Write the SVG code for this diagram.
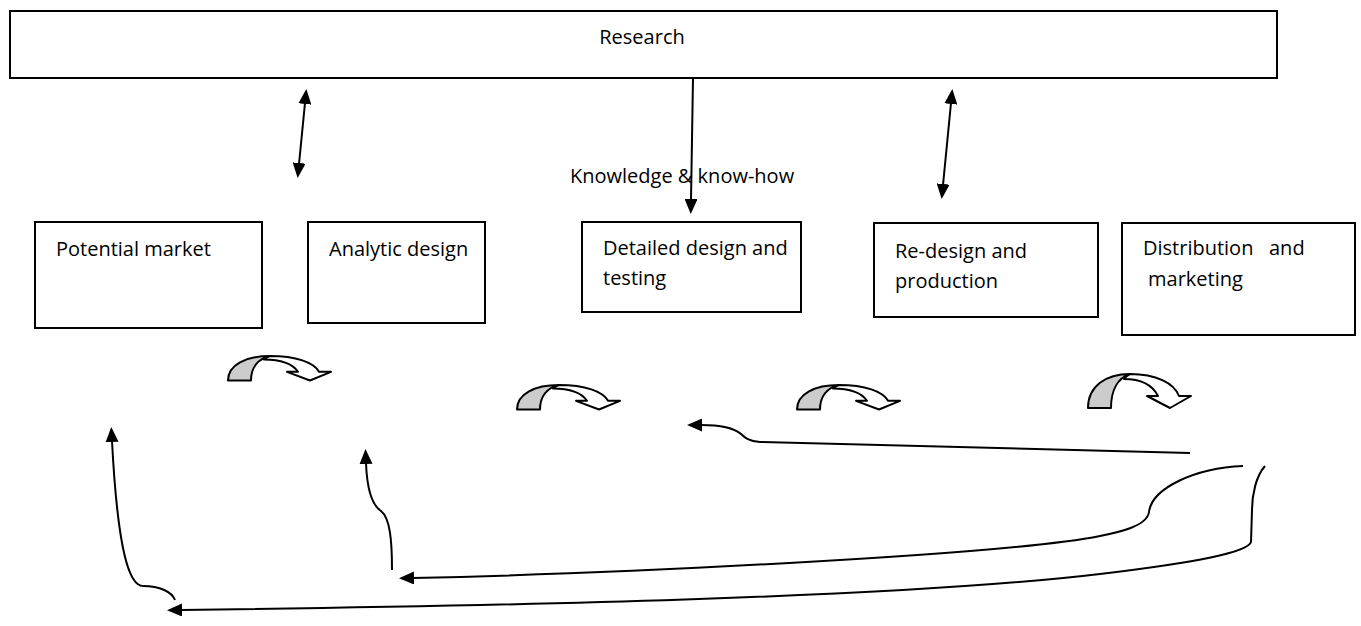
<svg xmlns="http://www.w3.org/2000/svg" width="1361" height="626" viewBox="0 0 1361 626">
<style>
.box{fill:#fff;stroke:#000;stroke-width:2}
.t{font-family:"Open Sans","Noto Sans",sans-serif;font-size:20px;fill:#000;white-space:pre}
.c{fill:none;stroke:#000;stroke-width:2}
.g{fill:#cccccc;stroke:#000;stroke-width:2;stroke-linejoin:round}
.w{fill:#fff;stroke:#000;stroke-width:2;stroke-linejoin:round}
</style>
<defs>
<marker id="ah" viewBox="0 0 15 13" refX="1" refY="6.5" markerWidth="15" markerHeight="13" markerUnits="userSpaceOnUse" orient="auto-start-reverse">
<path d="M0,0 L15,6.5 L0,13 z" fill="#000"/>
</marker>
<g id="uturn">
<path class="g" vector-effect="non-scaling-stroke" d="M0,34 C0,12 18,0 42,0 C30,4 23,16 23,34 Z"/>
<path class="w" vector-effect="non-scaling-stroke" d="M42,0 C68,0 86,9 91,22 L103,22 L82,34 L59,22 L70,22 C65,12 55,5 36,5 C38,2 40,1 42,0 Z"/>
</g>
</defs>
<g id="research">
<rect class="box" x="10" y="11" width="1267" height="67"/>
<text class="t" x="642" y="44" text-anchor="middle">Research</text>
</g>
<g id="potential-market">
<rect class="box" x="35" y="222" width="227" height="106"/>
<text class="t" x="56" y="256">Potential market</text>
</g>
<g id="analytic-design">
<rect class="box" x="308" y="222" width="177" height="101"/>
<text class="t" x="329" y="256">Analytic design</text>
</g>
<g id="detailed-design">
<rect class="box" x="582" y="222" width="219" height="90"/>
<text class="t" x="603" y="255">Detailed design and</text>
<text class="t" x="603" y="285">testing</text>
</g>
<g id="redesign">
<rect class="box" x="874" y="223" width="224" height="94"/>
<text class="t" x="895" y="258">Re-design and</text>
<text class="t" x="895" y="288">production</text>
</g>
<g id="distribution">
<rect class="box" x="1122" y="223" width="233" height="112"/>
<text class="t" x="1143" y="255">Distribution   and</text>
<text class="t" x="1148" y="286">marketing</text>
</g>
<g id="knowledge-label">
<text class="t" x="570" y="183">Knowledge &amp; know-how</text>
</g>
<g id="connectors">
<line class="c" x1="305" y1="103" x2="299" y2="164" marker-start="url(#ah)" marker-end="url(#ah)"/>
<line class="c" x1="951" y1="103" x2="943" y2="185" marker-start="url(#ah)" marker-end="url(#ah)"/>
<line class="c" x1="693" y1="78" x2="691" y2="200" marker-end="url(#ah)"/>
<path class="c" d="M1190,453 L760,442 C749,441 745,438 741,434 C734,428 720,425 701,425" marker-end="url(#ah)"/>
<path class="c" d="M1243,466 C1195,468 1152,488 1149,512 C1147,526 1120,532 1100,536 C1000,556 600,574 413,578" marker-end="url(#ah)"/>
<path class="c" d="M1265,466 C1256,476 1252,495 1252,510 L1251,542 C1248,552 1200,562 1100,574 C900,598 500,606 181,610" marker-end="url(#ah)"/>
<path class="c" d="M392,570 C392,540 390,518 381,511 C372,505 367,490 366,463" marker-end="url(#ah)"/>
<path class="c" d="M175,600 C172,592 160,586 143,586 C130,586 118,556 112,441" marker-end="url(#ah)"/>
</g>
<g id="uturns">
<use href="#uturn" transform="translate(228,356) scale(1,0.72)"/>
<use href="#uturn" transform="translate(517,385) scale(1,0.72)"/>
<use href="#uturn" transform="translate(797,385) scale(1,0.72)"/>
<use href="#uturn" transform="translate(1088,374)"/>
</g>
</svg>
